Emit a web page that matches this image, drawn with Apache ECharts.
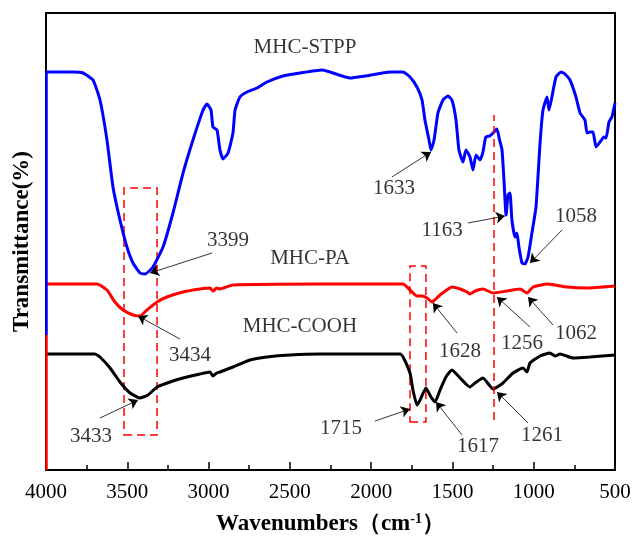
<!DOCTYPE html>
<html>
<head>
<meta charset="utf-8">
<script src="https://cdn.jsdelivr.net/npm/echarts@6/dist/echarts.min.js"></script>
<style>
  html, body { margin: 0; padding: 0; background: #fff; }
  #chart { width: 633px; height: 536px; }
</style>
</head>
<body>
<div id="chart"></div>
<script>
// FTIR 光谱, 纵坐标只是相对值 (曲线已错开)
const stpp = [
  [4000, 398], [3834, 398], [3772, 397], [3711, 390], [3668, 370], [3625, 330], [3588, 283],
  [3545, 250], [3502, 223], [3465, 207], [3422, 197], [3391, 196], [3342, 203], [3280, 223],
  [3219, 257], [3157, 297], [3096, 330], [3034, 360], [3010, 366], [2985, 360], [2973, 343],
  [2948, 340], [2930, 320], [2911, 311], [2880, 317], [2850, 337], [2837, 360], [2807, 373],
  [2764, 378], [2702, 382], [2641, 388], [2542, 394], [2438, 397], [2302, 400], [2130, 392],
  [2038, 394], [1884, 398], [1804, 398], [1761, 393], [1718, 383], [1687, 370], [1669, 350],
  [1644, 330], [1632, 320], [1613, 330], [1589, 357], [1558, 370], [1527, 374], [1503, 370],
  [1478, 350], [1460, 320], [1435, 308], [1417, 320], [1392, 313], [1374, 300], [1355, 315],
  [1330, 310], [1312, 318], [1295, 333], [1270, 334], [1250, 337], [1226, 341], [1210, 330],
  [1195, 320], [1183, 290], [1170, 255], [1158, 275], [1146, 277], [1134, 250], [1115, 233],
  [1103, 237], [1091, 223], [1072, 207], [1054, 206], [1035, 213], [1011, 237], [986, 263],
  [961, 327], [943, 360], [918, 373], [906, 360], [888, 373], [863, 393], [832, 398],
  [808, 396], [777, 390], [740, 373], [715, 357], [685, 350], [672, 337], [654, 338],
  [635, 338], [617, 323], [592, 328], [568, 333], [555, 332], [537, 348], [519, 353], [500, 367]
];
const pa = [
  [4000, 186], [3686, 186], [3625, 180], [3576, 168], [3526, 160], [3465, 155], [3422, 154],
  [3379, 160], [3317, 168], [3256, 173], [3157, 178], [3053, 181], [2991, 182], [2973, 179],
  [2950, 182], [2930, 181], [2850, 185], [2315, 186], [1804, 186], [1761, 180], [1718, 174],
  [1687, 174], [1656, 172], [1626, 168], [1576, 175], [1503, 183], [1453, 181], [1410, 178],
  [1392, 176], [1361, 179], [1312, 181], [1250, 177], [1164, 179], [1084, 181], [1041, 177],
  [1004, 183], [918, 186], [869, 185], [795, 183], [672, 182], [500, 184]
];
const cooh = [
  [4000, 116], [3699, 116], [3668, 113], [3606, 102], [3545, 88], [3483, 77], [3422, 72],
  [3373, 75], [3317, 83], [3237, 88], [3157, 92], [3053, 96], [2991, 98], [2973, 94],
  [2950, 97], [2930, 98], [2850, 103], [2745, 110], [2641, 113], [2499, 115], [2315, 116],
  [1822, 116], [1761, 97], [1743, 80], [1718, 65], [1699, 70], [1663, 82], [1632, 73],
  [1607, 68], [1576, 80], [1540, 93], [1503, 100], [1453, 92], [1417, 86], [1392, 83],
  [1361, 87], [1312, 92], [1250, 81], [1189, 87], [1127, 97], [1066, 102], [1041, 98],
  [1023, 107], [961, 114], [900, 117], [869, 114], [838, 116], [758, 112], [654, 113], [500, 115]
];

// 标注: [文字, 文字位置x, y, 箭头起点x, y, 箭头终点x, y]
const peaks = [
  ['3399', 2880, 230, 2979, 217, 3360, 197],
  ['3434', 3114, 115, 3176, 131, 3434, 154],
  ['3433', 3723, 34, 3668, 52, 3434, 70],
  ['1633', 1859, 282, 1872, 293, 1632, 318],
  ['1163', 1564, 240, 1404, 247, 1177, 254],
  ['1058', 740, 254, 826, 240, 1023, 207],
  ['1628', 1453, 119, 1472, 137, 1620, 167],
  ['1256', 1072, 127, 1023, 143, 1226, 173],
  ['1062', 740, 137, 881, 145, 1035, 173],
  ['1715', 2185, 42, 1976, 49, 1761, 61],
  ['1617', 1343, 24, 1441, 35, 1601, 68],
  ['1261', 949, 35, 1035, 47, 1226, 78]
];
const names = [['MHC-STPP', 2407, 423], ['MHC-PA', 2376, 212], ['MHC-COOH', 2438, 144]];

// 红色虚线框 [x1, x2, y1, y2]
const boxes = [[3520, 3317, 35, 282], [1761, 1663, 48, 204]];
const vline = [1244, 50, 355];

const font = 'Liberation Serif';
const chart = echarts.init(document.getElementById('chart'));

function curve(name, data, color) {
  return {
    name: name,
    type: 'line',
    data: data,
    showSymbol: false,
    smooth: 0.15,
    lineStyle: { color: color, width: 3 },
    z: 3
  };
}

const option = {
  animation: false,
  backgroundColor: '#fff',
  grid: { left: 46, right: 18, top: 13, bottom: 66, outerBoundsMode: 'none' },
  xAxis: [
    {
      type: 'value',
      inverse: true,
      min: 500,
      max: 4000,
      interval: 500,
      name: 'Wavenumbers（cm{sup|-1}）',
      nameLocation: 'middle',
      nameGap: 42,
      nameTextStyle: {
        fontFamily: font, fontSize: 23, fontWeight: 'bold', color: '#000',
        rich: { sup: { fontFamily: font, fontSize: 14, fontWeight: 'bold', verticalAlign: 'top', padding: [0, 0, 10, 0] } }
      },
      axisLine: { show: true, onZero: false, lineStyle: { color: '#000', width: 2 } },
      axisTick: { show: true, inside: true, length: 8, lineStyle: { color: '#000', width: 1.5 } },
      minorTick: { show: true, splitNumber: 2, length: 5, lineStyle: { color: '#000', width: 1.5 } },
      axisLabel: { fontFamily: font, fontSize: 21, color: '#000', margin: 12, formatter: v => String(v) },
      splitLine: { show: false }
    },
    {
      type: 'value', inverse: true, min: 500, max: 4000, position: 'top',
      axisLine: { show: true, onZero: false, lineStyle: { color: '#000', width: 2 } },
      axisTick: { show: false }, axisLabel: { show: false }, splitLine: { show: false }
    }
  ],
  yAxis: [
    {
      type: 'value',
      min: 0,
      max: 457,
      name: 'Transmittance(%)',
      nameLocation: 'middle',
      nameGap: 12,
      nameTextStyle: { fontFamily: font, fontSize: 23, fontWeight: 'bold', color: '#000' },
      axisLine: { show: true, onZero: false, lineStyle: { color: '#000', width: 2 } },
      axisTick: { show: false },
      axisLabel: { show: false },
      splitLine: { show: false }
    },
    {
      type: 'value', min: 0, max: 457, position: 'right',
      axisLine: { show: true, onZero: false, lineStyle: { color: '#000', width: 2 } },
      axisTick: { show: false }, axisLabel: { show: false }, splitLine: { show: false }
    }
  ],
  series: [
    curve('MHC-STPP', stpp, '#0000ff'),
    curve('MHC-PA', pa, '#ff0000'),
    curve('MHC-COOH', cooh, '#000000'),
    {
      // 左侧纵轴的彩色分段
      type: 'lines',
      coordinateSystem: 'cartesian2d',
      clip: false,
      z: 5,
      data: [
        { coords: [[4000, stpp[0][1]], [4000, 135]], lineStyle: { color: '#0000ff' } },
        { coords: [[4000, 135], [4000, 0]], lineStyle: { color: '#ff0000' } }
      ],
      lineStyle: { width: 2.5, opacity: 1 }
    },
    {
      type: 'lines',
      coordinateSystem: 'cartesian2d',
      z: 4,
      data: [{ coords: [[vline[0], vline[1]], [vline[0], vline[2]]] }],
      lineStyle: { color: '#ff0000', width: 1.5, type: [8, 5], opacity: 1 },
      markArea: {
        silent: true,
        itemStyle: { color: 'rgba(0,0,0,0)', borderColor: '#ff0000', borderWidth: 1.5, borderType: [8, 5] },
        data: boxes.map(b => [{ coord: [b[0], b[2]] }, { coord: [b[1], b[3]] }])
      }
    },
    {
      type: 'lines',
      coordinateSystem: 'cartesian2d',
      z: 6,
      symbol: ['none', 'arrow'],
      symbolSize: [0, 9],
      data: peaks.map(p => ({ coords: [[p[3], p[4]], [p[5], p[6]]] })),
      lineStyle: { color: '#000', width: 0.8, opacity: 1 }
    },
    {
      type: 'scatter',
      symbolSize: 0,
      z: 7,
      data: peaks.map(p => [p[1], p[2], p[0]]).concat(names.map(n => [n[1], n[2], n[0]])),
      label: {
        show: true,
        position: 'inside',
        formatter: p => p.data[2],
        fontFamily: font,
        fontSize: 21,
        color: '#000'
      }
    }
  ]
};
chart.setOption(option);
</script>
</body>
</html>
